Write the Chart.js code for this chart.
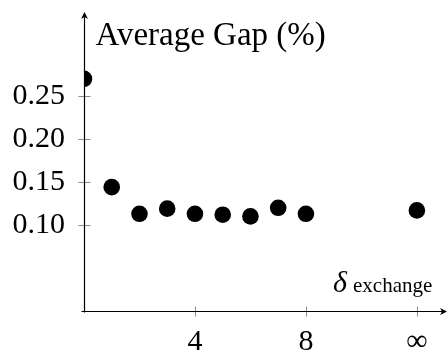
<!DOCTYPE html>
<html>
<head>
<meta charset="utf-8">
<script src="https://cdn.jsdelivr.net/npm/chart.js@4.4.0/dist/chart.umd.min.js"></script>
<style>
html, body { margin: 0; padding: 0; background: #fff; overflow: hidden; }
#wrap { position: relative; width: 448px; height: 352px; }
canvas { display: block; }
</style>
</head>
<body>
<div id="wrap"><canvas id="gapChart"></canvas></div>
<script>
// --- data ---
const exchangeSteps = [0, 1, 2, 3, 4, 5, 6, 7, 8, 12];   // 12 stands for "infinity"
const averageGap = [0.270, 0.144, 0.113, 0.119, 0.113, 0.112, 0.110, 0.120, 0.113, 0.117];
const xTickValues = [4, 8, 12];
const xTickLabels = ['4', '8', '\u221E'];
const yTickValues = [0.10, 0.15, 0.20, 0.25];
const yTickLabels = ['0.10', '0.15', '0.20', '0.25'];

const serif = 'Liberation Serif';
const tickFont = { family: serif, size: 30 };

// no label overhang padding, the axes sit where we put them
function noPadding(s) {
    s.paddingTop = 0; s.paddingBottom = 0;
    s.paddingLeft = 0; s.paddingRight = 0;
}

// pgfplots-style "axis lines = middle": arrows, crossing ticks, labels
const middleAxes = {
    id: 'middleAxes',
    beforeDatasetsDraw(chart) {
        const { ctx, chartArea: a, scales: { x, y } } = chart;
        const x0 = Math.round(x.getPixelForValue(0)) + 0.5;
        const y0 = Math.round(y.getPixelForValue(0)) + 0.5;
        ctx.save();

        // tick marks
        ctx.strokeStyle = '#8a8a8a';
        ctx.lineWidth = 1;
        ctx.beginPath();
        x.ticks.forEach(t => {
            const px = Math.round(x.getPixelForValue(t.value)) + 0.5;
            ctx.moveTo(px, y0 - 5); ctx.lineTo(px, y0 + 5);
        });
        y.ticks.forEach(t => {
            const py = Math.round(y.getPixelForValue(t.value)) + 0.5;
            ctx.moveTo(x0 - 6, py); ctx.lineTo(x0 + 6, py);
        });
        ctx.stroke();

        // axis lines
        ctx.strokeStyle = '#000';
        ctx.lineWidth = 1.2;
        ctx.beginPath();
        ctx.moveTo(x0 - 3, y0); ctx.lineTo(a.right - 2, y0);
        ctx.moveTo(x0, y0 + 1); ctx.lineTo(x0, a.top + 2);
        ctx.stroke();

        // arrow heads
        ctx.fillStyle = '#000';
        ctx.beginPath();
        ctx.moveTo(a.right + 1, y0);
        ctx.lineTo(a.right - 6, y0 - 3.5);
        ctx.lineTo(a.right - 4, y0);
        ctx.lineTo(a.right - 6, y0 + 3.5);
        ctx.closePath();
        ctx.moveTo(x0, a.top - 1);
        ctx.lineTo(x0 - 3.5, a.top + 6);
        ctx.lineTo(x0, a.top + 4);
        ctx.lineTo(x0 + 3.5, a.top + 6);
        ctx.closePath();
        ctx.fill();

        // axis labels
        ctx.fillStyle = '#000';
        ctx.textBaseline = 'alphabetic';
        ctx.textAlign = 'left';
        ctx.font = `33px "${serif}"`;
        ctx.fillText('Average Gap (%)', x0 + 11, a.top + 32);

        ctx.font = `italic 30px "${serif}"`;
        ctx.fillText('\u03B4', 333, y0 - 20);
        ctx.font = `21px "${serif}"`;
        ctx.fillText('exchange', 353, y0 - 20);

        ctx.restore();
    }
};

const chart = new Chart(document.getElementById('gapChart'), {
    type: 'scatter',
    data: {
        datasets: [{
            data: exchangeSteps.map((s, i) => ({ x: s, y: averageGap[i] })),
            backgroundColor: '#000',
            borderColor: '#000',
            borderWidth: 0,
            pointRadius: 8.3,
            pointHoverRadius: 8.3
        }]
    },
    options: {
        responsive: true,
        maintainAspectRatio: false,
        animation: false,
        layout: { autoPadding: false, padding: { top: 13, right: 2, left: 0, bottom: 0 } },
        plugins: { legend: { display: false }, tooltip: { enabled: false } },
        scales: {
            x: {
                type: 'linear',
                min: 0,
                max: 13.05,
                grid: { display: false },
                border: { display: false },
                afterBuildTicks: s => { s.ticks = xTickValues.map(v => ({ value: v })); },
                afterFit: s => { s.height = 41; noPadding(s); },
                ticks: {
                    autoSkip: false,
                    maxRotation: 0,
                    padding: 5,
                    color: '#000',
                    font: tickFont,
                    callback: (v, i) => xTickLabels[i]
                }
            },
            y: {
                type: 'linear',
                min: 0,
                max: 0.3465,
                grid: { display: false },
                border: { display: false },
                afterBuildTicks: s => { s.ticks = yTickValues.map(v => ({ value: v })); },
                afterFit: s => { s.width = 84; noPadding(s); },
                ticks: {
                    autoSkip: false,
                    padding: 11,
                    color: '#000',
                    font: tickFont,
                    callback: (v, i) => yTickLabels[i]
                }
            }
        }
    },
    plugins: [middleAxes]
});
</script>
</body>
</html>
